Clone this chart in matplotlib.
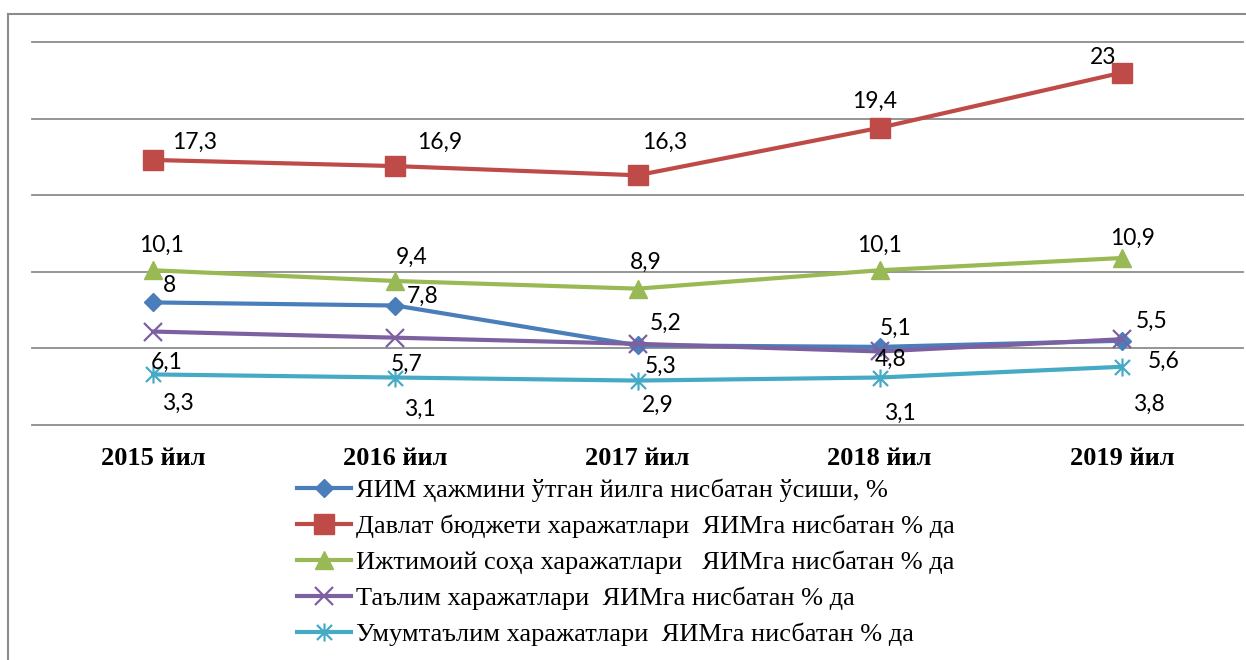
import numpy as np
import matplotlib.pyplot as plt
from matplotlib.path import Path
from matplotlib.lines import Line2D

years = ["2015 йил", "2016 йил", "2017 йил", "2018 йил", "2019 йил"]

yim = [8, 7.8, 5.2, 5.1, 5.5]
budjet = [17.3, 16.9, 16.3, 19.4, 23]
ijtimoiy = [10.1, 9.4, 8.9, 10.1, 10.9]
talim = [6.1, 5.7, 5.3, 4.8, 5.6]
umumtalim = [3.3, 3.1, 2.9, 3.1, 3.8]

nomlar = [
    "ЯИМ ҳажмини ўтган йилга нисбатан ўсиши, %",
    "Давлат бюджети харажатлари  ЯИМга нисбатан % да",
    "Ижтимоий соҳа харажатлари   ЯИМга нисбатан % да",
    "Таълим харажатлари  ЯИМга нисбатан % да",
    "Умумтаълим харажатлари  ЯИМга нисбатан % да",
]

yulduz = Path([(-1, -1), (1, 1), (-1, 1), (1, -1), (0, -1.2), (0, 1.2)],
              [Path.MOVETO, Path.LINETO, Path.MOVETO, Path.LINETO, Path.MOVETO, Path.LINETO])

ranglar = ["#4A7EBB", "#BE4B48", "#98B954", "#7D60A0", "#46AAC5"]
markerlar = ["D", "s", "^", "x", yulduz]
olchamlar = [9, 14, 13, 13, 13]

# yorliqlar siljishi (piksel, rasmda pastga musbat)
siljish = [
    [(16, -17), (27, -9), (28, -22), (16, -19), (30, -19)],
    [(42, -18), (44, -24), (27, -33), (-5, -26), (-19, -15)],
    [(8, -25), (16, -24), (8, -26), (0, -25), (11, -20)],
    [(14, 31), (11, 27), (23, 23), (11, 8), (42, 22)],
    [(25, 29), (25, 32), (20, 25), (20, 36), (27, 38)],
]

plt.rcParams['font.family'] = ['Liberation Serif', 'DejaVu Serif']

fig = plt.figure(figsize=(12.46, 6.6), dpi=100)
W, H = 1246, 660
ax = fig.add_axes([32 / W, 1 - 425 / H, (1243 - 32) / W, (425 - 42) / H])

x = np.arange(len(years))
seriyalar = [yim, budjet, ijtimoiy, talim, umumtalim]
for i, s in enumerate(seriyalar):
    ew = 1.6 if i >= 3 else 1
    ax.plot(x, s, color=ranglar[i], lw=3, marker=markerlar[i], ms=olchamlar[i],
            mfc=ranglar[i], mec=ranglar[i], mew=ew, label=nomlar[i], zorder=3 + i)
    for j, v in enumerate(s):
        dx, dy = siljish[i][j]
        ax.annotate(("%g" % v).replace(".", ","), (x[j], v), xytext=(dx, -dy),
                    textcoords="offset pixels", ha="center", va="center",
                    fontsize=16.5, family=["Lato", "DejaVu Sans"], color="black", zorder=10)

ax.set_xlim(-0.5, 4.5)
ax.set_ylim(0, 25)
ax.set_yticks(range(0, 26, 5))
ax.set_yticklabels([])
ax.tick_params(axis="y", length=0)
ax.set_xticks(x)
ax.set_xticklabels(years, fontsize=19, fontweight="bold")
ax.tick_params(axis="x", length=0, pad=16)
for sp in ax.spines.values():
    sp.set_visible(False)
ax.yaxis.grid(True, color="#8C8C8C", lw=1.3)
for gl in ax.get_ygridlines():
    gl.set_clip_on(False)
ax.set_axisbelow(True)

leg = fig.legend(loc="upper left", bbox_to_anchor=(297 / W, 1 - 479 / H),
                 frameon=False, fontsize=19, handlelength=2.05, handletextpad=0.18,
                 labelspacing=0.47, borderpad=0, borderaxespad=0)

# tashqi ramka
fig.add_artist(Line2D([8 / W, 8 / W], [0, 1 - 14 / H], color="#8C8C8C", lw=1.5))
fig.add_artist(Line2D([8 / W, 1], [1 - 14 / H, 1 - 14 / H], color="#8C8C8C", lw=1.5))

plt.savefig("out.png", dpi=100)
